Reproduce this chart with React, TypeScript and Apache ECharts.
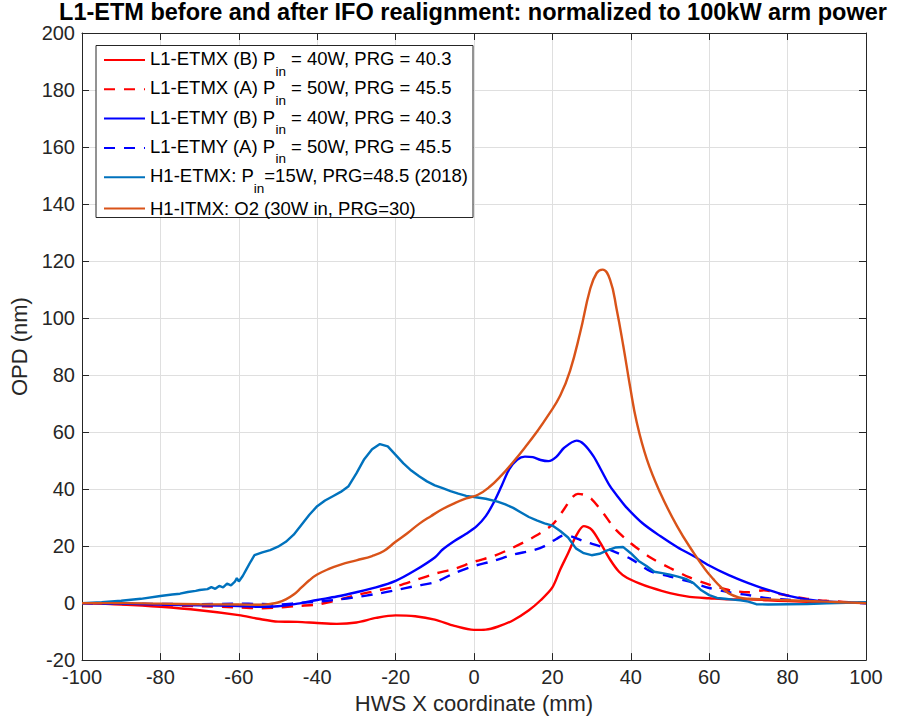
import React, { useEffect, useRef } from "react";
import * as echarts from "echarts";

const FONT = "'Liberation Sans', Arial, Helvetica, sans-serif";

const titleText = "L1-ETM before and after IFO realignment: normalized to 100kW arm power";
const xName = "HWS X coordinate (mm)";
const yName = "OPD (nm)";

// legend label parts: [before subscript, subscript, after subscript]
const legendParts: string[][] = [
  ["L1-ETMX (B) P", "in", " = 40W, PRG = 40.3"],
  ["L1-ETMX (A) P", "in", " = 50W, PRG = 45.5"],
  ["L1-ETMY (B) P", "in", " = 40W, PRG = 40.3"],
  ["L1-ETMY (A) P", "in", " = 50W, PRG = 45.5"],
  ["H1-ETMX: P", "in", "=15W, PRG=48.5 (2018)"],
  ["H1-ITMX: O2 (30W in, PRG=30)", "", ""],
];
const seriesNames = legendParts.map((p) => p.join(""));
const seriesColors = ["#FF0000", "#FF0000", "#0000FF", "#0000FF", "#0072BD", "#D95319"];
const seriesDashed = [false, true, false, true, false, false];

// [x (mm), OPD (nm)]
const etmxB: number[][] = [
  [-100, 0], [-90, -0.5], [-80, -1.3], [-70, -2.5], [-60, -4.2], [-55, -5.5], [-50, -6.5], [-45, -6.6],
  [-40, -7.0], [-35, -7.3], [-30, -6.8], [-25, -5.2], [-20, -4.3], [-15, -4.6], [-10, -5.8], [-5, -8.0],
  [0, -9.4], [3, -9.3], [6, -8.3], [10, -6.0], [14, -2.5], [17, 1.0], [20, 5.5], [22, 11.8], [24, 17.5],
  [26, 23.5], [28, 27.0], [30, 25.8], [32.2, 21.2], [34.7, 15.3], [37, 11.0], [39, 8.9], [42, 7.0],
  [45, 5.5], [50, 3.5], [55, 2.2], [60, 1.7], [65, 1.3], [70, 1.3], [75, 1.0], [80, 0.7], [90, 0.3],
  [100, 0],
];
const etmxA: number[][] = [
  [-100, 0], [-90, -0.3], [-80, -0.7], [-70, -1.1], [-60, -1.5], [-55, -1.8], [-50, -1.6], [-45, -1.0],
  [-40, -0.5], [-35, 1.0], [-30, 2.8], [-25, 4.3], [-20, 5.8], [-15, 8.0], [-10, 10.3], [-5, 12.0],
  [0, 14.5], [5, 16.5], [10, 19.5], [15, 23.0], [20, 27.5], [23, 33.0], [25, 37.0], [26.5, 38.3],
  [28, 38.0], [30, 36.5], [33, 31.5], [36, 26.0], [40, 21.0], [45, 16.0], [50, 12.3], [55, 9.0],
  [60, 6.5], [65, 4.6], [70, 3.8], [74, 4.5], [78, 3.2], [85, 1.5], [90, 0.8], [100, 0],
];
const etmyB: number[][] = [
  [-100, 0], [-90, -0.2], [-80, -0.5], [-70, -0.8], [-60, -1.0], [-55, -1.3], [-50, -1.1], [-45, -0.2],
  [-40, 1.1], [-35, 2.3], [-30, 3.8], [-25, 5.5], [-20, 7.8], [-15, 11.5], [-10, 16.0], [-8, 18.8],
  [-5, 21.8], [-2, 24.3], [0.7, 27.0], [3, 30.5], [5, 35.2], [7, 41.0], [9, 47.0], [11, 50.3],
  [13, 51.4], [15, 51.2], [17, 50.2], [19, 49.8], [21, 51.3], [23, 54.5], [26.2, 57.0], [28, 55.8],
  [30.5, 51.5], [32.5, 46.5], [34.7, 41.0], [37, 36.8], [39, 33.4], [43, 28.0], [47.5, 23.5],
  [52, 19.5], [56, 16.5], [60, 13.2], [65, 9.8], [70, 7.0], [75, 4.6], [80, 2.6], [85, 1.3],
  [90, 0.6], [100, 0],
];
const etmyA: number[][] = [
  [-100, 0], [-90, -0.2], [-80, -0.3], [-70, -0.4], [-60, -0.2], [-55, -0.3], [-50, -0.5], [-45, 0],
  [-40, 0.5], [-35, 1.2], [-30, 2.1], [-25, 3.2], [-20, 4.5], [-15, 6.0], [-10, 7.3], [-5, 10.5],
  [0, 13.0], [5, 14.8], [10, 17.0], [15, 18.5], [18, 20.0], [21, 22.5], [23, 23.8], [25, 23.3],
  [28, 21.7], [32, 20.0], [35, 18.5], [40, 15.5], [45, 11.2], [50, 9.3], [55, 7.5], [60, 5.3],
  [65, 3.8], [70, 2.8], [75, 1.7], [80, 1.2], [90, 0.4], [100, 0],
];
const h1Etmx: number[][] = [
  [-100, 0], [-95, 0.3], [-90, 0.8], [-85, 1.5], [-80, 2.5], [-77, 3.0], [-75, 3.3], [-73, 3.9],
  [-71, 4.3], [-70, 4.6], [-68, 4.9], [-67, 5.6], [-66, 5.0], [-65, 6.0], [-64, 5.5], [-63, 6.8],
  [-62, 6.2], [-61, 7.5], [-60.5, 8.8], [-60, 7.6], [-59, 9.5], [-58, 12.0], [-57, 14.5], [-56, 16.8],
  [-54, 17.8], [-52, 18.6], [-50, 19.8], [-48, 21.5], [-46, 24.0], [-44, 27.5], [-42, 31.0], [-40, 34.0],
  [-38, 36.0], [-36, 37.5], [-34, 39.0], [-32, 41.0], [-30, 45.5], [-28, 50.5], [-26, 54.0], [-24, 55.8],
  [-22, 55.0], [-20, 52.0], [-18, 49.0], [-16, 46.5], [-14, 44.5], [-12, 42.7], [-10, 41.3], [-8, 40.3],
  [-6, 39.3], [-4, 38.4], [-2, 37.6], [0, 37.2], [3, 36.6], [6, 35.6], [8, 34.6], [10, 33.4], [12, 31.8],
  [14, 30.2], [16, 29.0], [18, 28.0], [20, 27.2], [22, 25.3], [24, 23.0], [26, 19.2], [28, 17.5],
  [30, 16.8], [32, 17.3], [34, 18.5], [36, 19.5], [38, 19.7], [40, 17.5], [42, 14.8], [44, 13.0],
  [46, 11.0], [48, 10.5], [50, 10.0], [52, 9.3], [54, 8.5], [56, 7.0], [58, 4.5], [60, 2.8], [62, 1.8],
  [64, 1.5], [66, 1.2], [68, 1.0], [70, 0.5], [72, -0.4], [75, -0.5], [80, -0.4], [85, -0.3], [90, -0.1],
  [95, 0.1], [100, 0.3],
];
const h1Itmx: number[][] = [
  [-100, 0], [-90, 0], [-80, -0.2], [-70, -0.4], [-60, -0.5], [-55, -0.6], [-52, -0.3], [-50, 0.2],
  [-48, 1.3], [-46, 3.0], [-44, 5.5], [-42, 8.0], [-40, 10.0], [-37, 12.0], [-34, 13.5], [-30, 15.0],
  [-26, 16.5], [-23, 18.3], [-20, 21.5], [-17, 24.5], [-14, 27.8], [-11, 30.5], [-8, 33.0], [-5, 35.0],
  [-2, 36.7], [1, 38.0], [4, 40.8], [7, 44.8], [10, 49.5], [13, 54.6], [16, 60.0], [19, 66.0],
  [22, 72.8], [24.5, 81.5], [27.1, 95.0], [29.6, 110.0], [31.3, 115.8], [32.8, 117.0], [34.7, 113.5],
  [36.4, 103.0], [38.1, 90.1], [39.8, 76.1], [41.5, 63.5], [44.1, 50.4], [47.5, 38.7], [51.8, 27.0],
  [56, 17.7], [59, 11.8], [61, 8.5], [63, 5.6], [65, 3.4], [67.5, 2.0], [70, 1.5], [75, 1.3],
  [80, 1.0], [90, 0.5], [100, 0],
];
const seriesData = [etmxB, etmxA, etmyB, etmyA, h1Etmx, h1Itmx];
const seriesSmooth = [0.3, 0.3, 0.3, 0.3, 0, 0.45];

const X_MIN = -100, X_MAX = 100, X_STEP = 20;
const Y_MIN = -20, Y_MAX = 200, Y_STEP = 20;

export default function App() {
  const ref = useRef<HTMLDivElement>(null);
  useEffect(() => {
    if (!ref.current) return;
    const chart = echarts.init(ref.current, null, { renderer: "svg" });
    const axisColor = "#262626";
    const tickLabel = { color: axisColor, fontSize: 20, fontFamily: FONT };
    const option: any = {
      animation: false,
      backgroundColor: "#ffffff",
      grid: { left: 82, right: 32, top: 33, bottom: 58, containLabel: false },
      graphic: [
        {
          type: "text",
          x: 473,
          y: 0,
          style: {
            text: titleText,
            textAlign: "center",
            fontSize: 23.5,
            fontWeight: "bold",
            fontFamily: FONT,
            fill: "#000000",
          },
        },
        {
          type: "rect",
          z: 3,
          shape: { x: 96, y: 45.5, width: 377, height: 172 },
          style: { fill: "#ffffff", stroke: axisColor, lineWidth: 1 },
        },
      ],
      legend: {
        show: true,
        orient: "vertical",
        left: 103,
        top: 49,
        padding: 0,
        itemGap: 0.3,
        itemWidth: 41,
        itemHeight: 14,
        z: 5,
        data: seriesNames,
        itemStyle: { opacity: 0, borderWidth: 0 },
        formatter: (name: string) => {
          const p = legendParts[seriesNames.indexOf(name)];
          if (!p[1]) return `{u|${p[0]}}`;
          return `{t|${p[0]}}{s|${p[1]}}{t|${p[2]}}`;
        },
        textStyle: {
          color: "#000000",
          fontSize: 18.5,
          fontFamily: FONT,
          rich: {
            t: { fontSize: 18.5, lineHeight: 22, verticalAlign: "top", fontFamily: FONT, color: "#000000" },
            s: { fontSize: 13.5, lineHeight: 13, verticalAlign: "top", padding: [15, 0, 0, 0], fontFamily: FONT, color: "#000000" },
            u: { fontSize: 18.5, lineHeight: 22, padding: [3.5, 0, 3.5, 0], fontFamily: FONT, color: "#000000" },
          },
        },
      },
      xAxis: [
        {
          type: "value",
          min: X_MIN,
          max: X_MAX,
          interval: X_STEP,
          name: xName,
          nameLocation: "middle",
          nameGap: 22,
          nameTextStyle: { color: axisColor, fontSize: 22, fontFamily: FONT },
          axisLine: { show: true, onZero: false, lineStyle: { color: axisColor, width: 1 } },
          axisTick: { show: true, inside: true, length: 7, lineStyle: { color: axisColor } },
          axisLabel: { ...tickLabel, margin: 7 },
          splitLine: { show: true, lineStyle: { color: "#dfdfdf", width: 1 } },
        },
        {
          type: "value",
          position: "top",
          min: X_MIN,
          max: X_MAX,
          interval: X_STEP,
          axisLine: { show: true, onZero: false, lineStyle: { color: axisColor, width: 1 } },
          axisTick: { show: true, inside: true, length: 7, lineStyle: { color: axisColor } },
          axisLabel: { show: false },
          splitLine: { show: false },
        },
      ],
      yAxis: [
        {
          type: "value",
          min: Y_MIN,
          max: Y_MAX,
          interval: Y_STEP,
          name: yName,
          nameLocation: "middle",
          nameGap: 52,
          nameTextStyle: { color: axisColor, fontSize: 22, fontFamily: FONT },
          axisLine: { show: true, onZero: false, lineStyle: { color: axisColor, width: 1 } },
          axisTick: { show: true, inside: true, length: 7, lineStyle: { color: axisColor } },
          axisLabel: { ...tickLabel, margin: 7 },
          splitLine: { show: true, lineStyle: { color: "#dfdfdf", width: 1 } },
        },
        {
          type: "value",
          position: "right",
          min: Y_MIN,
          max: Y_MAX,
          interval: Y_STEP,
          axisLine: { show: true, onZero: false, lineStyle: { color: axisColor, width: 1 } },
          axisTick: { show: true, inside: true, length: 7, lineStyle: { color: axisColor } },
          axisLabel: { show: false },
          splitLine: { show: false },
        },
      ],
      series: seriesNames.map((name, i) => ({
        name,
        type: "line",
        xAxisIndex: 0,
        yAxisIndex: 0,
        data: seriesData[i],
        symbol: "none",
        showSymbol: false,
        smooth: seriesSmooth[i],
        color: seriesColors[i],
        lineStyle: {
          color: seriesColors[i],
          width: 2.4,
          type: seriesDashed[i] ? [11, 9] : "solid",
        },
        emphasis: { disabled: true },
        z: 2,
      })),
    };
    chart.setOption(option);
    return () => chart.dispose();
  }, []);
  return (
    <div
      ref={ref}
      style={{ position: "fixed", left: 0, top: 0, width: 898, height: 719, background: "#fff" }}
    />
  );
}
